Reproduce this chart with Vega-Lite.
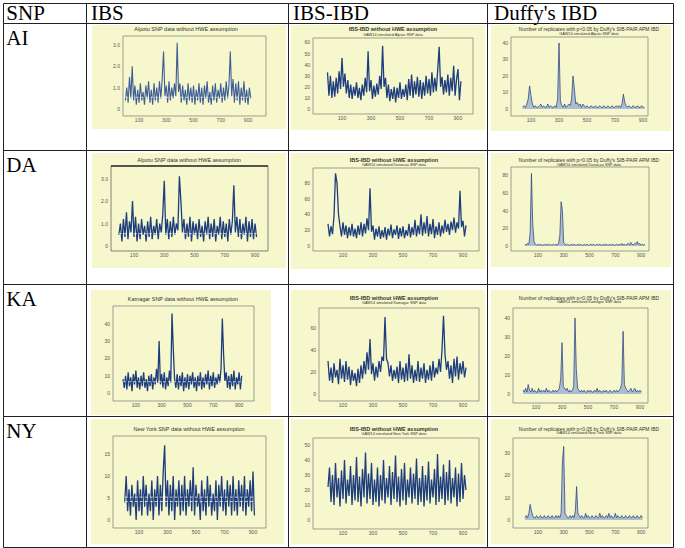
{
"$schema":"https://vega.github.io/schema/vega-lite/v6.json",
"padding":{"left":2,"top":2,"right":0,"bottom":0},
"background":"white",
"bounds":"flush",
"spacing":0,
"columns":4,
"data":{"values":[{}]},
"datasets":{
"xt":[{"v":100},{"v":300},{"v":500},{"v":700},{"v":900}],
"y3":[{"v":0,"l":"0"},{"v":1,"l":"1.0"},{"v":2,"l":"2.0"},{"v":3,"l":"3.0"}],
"y60":[{"v":0},{"v":10},{"v":20},{"v":30},{"v":40},{"v":50},{"v":60}],
"y40":[{"v":0},{"v":10},{"v":20},{"v":30},{"v":40}],
"y80":[{"v":0},{"v":20},{"v":40},{"v":60},{"v":80}],
"y60b":[{"v":0},{"v":20},{"v":40},{"v":60}],
"y15":[{"v":0},{"v":5},{"v":10},{"v":15}],
"y50":[{"v":0},{"v":10},{"v":20},{"v":30},{"v":40},{"v":50}],
"y30":[{"v":0},{"v":10},{"v":20},{"v":30}],
"ai1":[{"x":0,"y":0.4},{"x":10,"y":1.0},{"x":20,"y":0.3},{"x":30,"y":1.5},{"x":40,"y":0.5},{"x":50,"y":2.0},{"x":60,"y":0.4},{"x":70,"y":1.1},{"x":80,"y":0.2},{"x":90,"y":0.9},{"x":100,"y":0.3},{"x":110,"y":1.2},{"x":120,"y":0.4},{"x":130,"y":0.8},{"x":140,"y":0.2},{"x":150,"y":1.1},{"x":160,"y":0.5},{"x":170,"y":1.3},{"x":180,"y":0.3},{"x":190,"y":0.9},{"x":200,"y":0.2},{"x":210,"y":1.2},{"x":220,"y":0.4},{"x":230,"y":1.0},{"x":240,"y":0.3},{"x":250,"y":1.3},{"x":260,"y":0.5},{"x":270,"y":1.4},{"x":280,"y":2.7},{"x":290,"y":0.6},{"x":300,"y":1.1},{"x":310,"y":0.3},{"x":320,"y":1.3},{"x":330,"y":0.4},{"x":340,"y":1.0},{"x":350,"y":0.5},{"x":360,"y":1.2},{"x":370,"y":0.6},{"x":380,"y":3.1},{"x":390,"y":0.8},{"x":400,"y":1.2},{"x":410,"y":0.3},{"x":420,"y":1.1},{"x":430,"y":0.4},{"x":440,"y":0.9},{"x":450,"y":0.2},{"x":460,"y":1.2},{"x":470,"y":0.4},{"x":480,"y":1.0},{"x":490,"y":0.3},{"x":500,"y":1.1},{"x":510,"y":0.2},{"x":520,"y":0.9},{"x":530,"y":0.4},{"x":540,"y":1.2},{"x":550,"y":0.3},{"x":560,"y":1.0},{"x":570,"y":0.2},{"x":580,"y":1.1},{"x":590,"y":0.5},{"x":600,"y":1.3},{"x":610,"y":0.3},{"x":620,"y":0.8},{"x":630,"y":0.2},{"x":640,"y":1.1},{"x":650,"y":0.4},{"x":660,"y":1.2},{"x":670,"y":0.3},{"x":680,"y":0.9},{"x":690,"y":0.5},{"x":700,"y":1.2},{"x":710,"y":0.3},{"x":720,"y":1.0},{"x":730,"y":0.4},{"x":740,"y":1.3},{"x":750,"y":0.5},{"x":760,"y":1.1},{"x":770,"y":2.7},{"x":780,"y":0.6},{"x":790,"y":1.4},{"x":800,"y":0.3},{"x":810,"y":1.2},{"x":820,"y":0.4},{"x":830,"y":1.3},{"x":840,"y":0.2},{"x":850,"y":1.0},{"x":860,"y":0.4},{"x":870,"y":1.3},{"x":880,"y":0.3},{"x":890,"y":0.9},{"x":900,"y":0.2},{"x":910,"y":1.0},{"x":920,"y":0.5}],
"ai2":[{"x":0,"y":33},{"x":10,"y":12},{"x":20,"y":30},{"x":30,"y":10},{"x":40,"y":25},{"x":50,"y":11},{"x":60,"y":28},{"x":70,"y":14},{"x":80,"y":34},{"x":90,"y":18},{"x":100,"y":46},{"x":110,"y":20},{"x":120,"y":32},{"x":130,"y":14},{"x":140,"y":26},{"x":150,"y":10},{"x":160,"y":22},{"x":170,"y":9},{"x":180,"y":20},{"x":190,"y":12},{"x":200,"y":24},{"x":210,"y":10},{"x":220,"y":19},{"x":230,"y":8},{"x":240,"y":22},{"x":250,"y":12},{"x":260,"y":28},{"x":270,"y":15},{"x":280,"y":52},{"x":290,"y":16},{"x":300,"y":26},{"x":310,"y":9},{"x":320,"y":21},{"x":330,"y":11},{"x":340,"y":23},{"x":350,"y":13},{"x":360,"y":30},{"x":370,"y":18},{"x":380,"y":57},{"x":390,"y":20},{"x":400,"y":28},{"x":410,"y":10},{"x":420,"y":22},{"x":430,"y":7},{"x":440,"y":18},{"x":450,"y":9},{"x":460,"y":20},{"x":470,"y":6},{"x":480,"y":19},{"x":490,"y":10},{"x":500,"y":24},{"x":510,"y":9},{"x":520,"y":18},{"x":530,"y":11},{"x":540,"y":22},{"x":550,"y":8},{"x":560,"y":27},{"x":570,"y":12},{"x":580,"y":31},{"x":590,"y":10},{"x":600,"y":25},{"x":610,"y":13},{"x":620,"y":29},{"x":630,"y":11},{"x":640,"y":26},{"x":650,"y":9},{"x":660,"y":24},{"x":670,"y":12},{"x":680,"y":30},{"x":690,"y":14},{"x":700,"y":27},{"x":710,"y":12},{"x":720,"y":33},{"x":730,"y":15},{"x":740,"y":28},{"x":750,"y":16},{"x":760,"y":35},{"x":770,"y":56},{"x":780,"y":20},{"x":790,"y":29},{"x":800,"y":13},{"x":810,"y":26},{"x":820,"y":15},{"x":830,"y":31},{"x":840,"y":12},{"x":850,"y":28},{"x":860,"y":16},{"x":870,"y":39},{"x":880,"y":12},{"x":890,"y":27},{"x":900,"y":36},{"x":910,"y":8},{"x":920,"y":25}],
"ai3":[{"x":40,"y":1},{"x":50,"y":2},{"x":60,"y":1},{"x":70,"y":3},{"x":80,"y":6},{"x":90,"y":14},{"x":100,"y":8},{"x":110,"y":3},{"x":120,"y":1},{"x":130,"y":2},{"x":140,"y":1},{"x":150,"y":1},{"x":160,"y":2},{"x":170,"y":3},{"x":180,"y":1},{"x":190,"y":2},{"x":200,"y":1},{"x":210,"y":1},{"x":220,"y":3},{"x":230,"y":1},{"x":240,"y":2},{"x":250,"y":1},{"x":260,"y":1},{"x":270,"y":2},{"x":280,"y":1},{"x":290,"y":6},{"x":300,"y":40},{"x":310,"y":5},{"x":320,"y":2},{"x":330,"y":1},{"x":340,"y":3},{"x":350,"y":1},{"x":360,"y":2},{"x":370,"y":3},{"x":380,"y":2},{"x":390,"y":6},{"x":400,"y":20},{"x":410,"y":12},{"x":420,"y":3},{"x":430,"y":4},{"x":440,"y":2},{"x":450,"y":3},{"x":460,"y":1},{"x":470,"y":3},{"x":480,"y":2},{"x":490,"y":1},{"x":500,"y":2},{"x":510,"y":1},{"x":520,"y":1},{"x":530,"y":2},{"x":540,"y":1},{"x":550,"y":1},{"x":560,"y":2},{"x":570,"y":1},{"x":580,"y":1},{"x":590,"y":2},{"x":600,"y":1},{"x":610,"y":1},{"x":620,"y":2},{"x":630,"y":1},{"x":640,"y":1},{"x":650,"y":2},{"x":660,"y":1},{"x":670,"y":1},{"x":680,"y":2},{"x":690,"y":1},{"x":700,"y":1},{"x":710,"y":2},{"x":720,"y":1},{"x":730,"y":2},{"x":740,"y":1},{"x":750,"y":3},{"x":760,"y":9},{"x":770,"y":4},{"x":780,"y":2},{"x":790,"y":1},{"x":800,"y":2},{"x":810,"y":1},{"x":820,"y":1},{"x":830,"y":2},{"x":840,"y":1},{"x":850,"y":1},{"x":860,"y":2},{"x":870,"y":1},{"x":880,"y":1},{"x":890,"y":2},{"x":900,"y":1},{"x":910,"y":1}],
"da1":[{"x":0,"y":0.5},{"x":10,"y":1.0},{"x":20,"y":0.2},{"x":30,"y":1.2},{"x":40,"y":0.4},{"x":50,"y":1.5},{"x":60,"y":0.3},{"x":70,"y":1.1},{"x":80,"y":0.6},{"x":90,"y":2.0},{"x":100,"y":0.4},{"x":110,"y":1.3},{"x":120,"y":0.2},{"x":130,"y":1.0},{"x":140,"y":0.3},{"x":150,"y":1.2},{"x":160,"y":0.5},{"x":170,"y":0.9},{"x":180,"y":0.2},{"x":190,"y":1.1},{"x":200,"y":0.4},{"x":210,"y":1.3},{"x":220,"y":0.3},{"x":230,"y":0.9},{"x":240,"y":0.5},{"x":250,"y":1.2},{"x":260,"y":0.3},{"x":270,"y":1.0},{"x":280,"y":0.6},{"x":290,"y":1.4},{"x":300,"y":2.9},{"x":310,"y":0.5},{"x":320,"y":1.2},{"x":330,"y":0.3},{"x":340,"y":1.1},{"x":350,"y":0.4},{"x":360,"y":1.3},{"x":370,"y":0.5},{"x":380,"y":1.0},{"x":390,"y":0.7},{"x":400,"y":3.1},{"x":410,"y":2.0},{"x":420,"y":0.6},{"x":430,"y":1.2},{"x":440,"y":0.3},{"x":450,"y":1.0},{"x":460,"y":0.4},{"x":470,"y":1.3},{"x":480,"y":0.2},{"x":490,"y":1.1},{"x":500,"y":0.5},{"x":510,"y":1.0},{"x":520,"y":0.3},{"x":530,"y":1.2},{"x":540,"y":0.4},{"x":550,"y":0.9},{"x":560,"y":0.2},{"x":570,"y":1.1},{"x":580,"y":0.5},{"x":590,"y":1.3},{"x":600,"y":0.3},{"x":610,"y":1.0},{"x":620,"y":0.4},{"x":630,"y":1.2},{"x":640,"y":0.2},{"x":650,"y":0.9},{"x":660,"y":0.5},{"x":670,"y":1.3},{"x":680,"y":0.3},{"x":690,"y":1.1},{"x":700,"y":0.4},{"x":710,"y":1.0},{"x":720,"y":0.2},{"x":730,"y":1.2},{"x":740,"y":0.5},{"x":750,"y":1.1},{"x":760,"y":2.7},{"x":770,"y":0.6},{"x":780,"y":1.3},{"x":790,"y":0.4},{"x":800,"y":1.2},{"x":810,"y":0.3},{"x":820,"y":1.0},{"x":830,"y":0.5},{"x":840,"y":1.3},{"x":850,"y":0.2},{"x":860,"y":1.1},{"x":870,"y":0.4},{"x":880,"y":1.2},{"x":890,"y":0.3},{"x":900,"y":1.0},{"x":910,"y":0.4}],
"da2":[{"x":0,"y":28},{"x":10,"y":12},{"x":20,"y":25},{"x":30,"y":15},{"x":40,"y":38},{"x":50,"y":92},{"x":60,"y":80},{"x":70,"y":40},{"x":80,"y":25},{"x":90,"y":12},{"x":100,"y":30},{"x":110,"y":14},{"x":120,"y":26},{"x":130,"y":10},{"x":140,"y":24},{"x":150,"y":13},{"x":160,"y":28},{"x":170,"y":12},{"x":180,"y":22},{"x":190,"y":10},{"x":200,"y":26},{"x":210,"y":14},{"x":220,"y":30},{"x":230,"y":12},{"x":240,"y":28},{"x":250,"y":16},{"x":260,"y":35},{"x":270,"y":20},{"x":280,"y":73},{"x":290,"y":18},{"x":300,"y":26},{"x":310,"y":8},{"x":320,"y":22},{"x":330,"y":12},{"x":340,"y":25},{"x":350,"y":9},{"x":360,"y":20},{"x":370,"y":11},{"x":380,"y":24},{"x":390,"y":8},{"x":400,"y":22},{"x":410,"y":13},{"x":420,"y":27},{"x":430,"y":10},{"x":440,"y":21},{"x":450,"y":14},{"x":460,"y":26},{"x":470,"y":9},{"x":480,"y":23},{"x":490,"y":12},{"x":500,"y":25},{"x":510,"y":10},{"x":520,"y":20},{"x":530,"y":13},{"x":540,"y":28},{"x":550,"y":11},{"x":560,"y":24},{"x":570,"y":14},{"x":580,"y":33},{"x":590,"y":12},{"x":600,"y":26},{"x":610,"y":15},{"x":620,"y":40},{"x":630,"y":13},{"x":640,"y":30},{"x":650,"y":16},{"x":660,"y":38},{"x":670,"y":12},{"x":680,"y":28},{"x":690,"y":15},{"x":700,"y":34},{"x":710,"y":10},{"x":720,"y":25},{"x":730,"y":14},{"x":740,"y":30},{"x":750,"y":12},{"x":760,"y":26},{"x":770,"y":16},{"x":780,"y":33},{"x":790,"y":18},{"x":800,"y":28},{"x":810,"y":14},{"x":820,"y":31},{"x":830,"y":20},{"x":840,"y":36},{"x":850,"y":17},{"x":860,"y":30},{"x":870,"y":22},{"x":880,"y":70},{"x":890,"y":24},{"x":900,"y":32},{"x":910,"y":12},{"x":920,"y":26}],
"da3":[{"x":0,"y":2},{"x":10,"y":1},{"x":20,"y":3},{"x":30,"y":2},{"x":40,"y":15},{"x":50,"y":82},{"x":60,"y":25},{"x":70,"y":5},{"x":80,"y":2},{"x":90,"y":1},{"x":100,"y":2},{"x":110,"y":1},{"x":120,"y":2},{"x":130,"y":1},{"x":140,"y":1},{"x":150,"y":2},{"x":160,"y":1},{"x":170,"y":2},{"x":180,"y":1},{"x":190,"y":2},{"x":200,"y":1},{"x":210,"y":1},{"x":220,"y":2},{"x":230,"y":1},{"x":240,"y":2},{"x":250,"y":1},{"x":260,"y":3},{"x":270,"y":12},{"x":280,"y":50},{"x":290,"y":40},{"x":300,"y":4},{"x":310,"y":2},{"x":320,"y":1},{"x":330,"y":2},{"x":340,"y":1},{"x":350,"y":1},{"x":360,"y":2},{"x":370,"y":1},{"x":380,"y":2},{"x":390,"y":1},{"x":400,"y":1},{"x":410,"y":2},{"x":420,"y":1},{"x":430,"y":2},{"x":440,"y":1},{"x":450,"y":1},{"x":460,"y":2},{"x":470,"y":1},{"x":480,"y":2},{"x":490,"y":1},{"x":500,"y":1},{"x":510,"y":2},{"x":520,"y":1},{"x":530,"y":2},{"x":540,"y":1},{"x":550,"y":1},{"x":560,"y":2},{"x":570,"y":1},{"x":580,"y":2},{"x":590,"y":1},{"x":600,"y":1},{"x":610,"y":2},{"x":620,"y":1},{"x":630,"y":2},{"x":640,"y":1},{"x":650,"y":1},{"x":660,"y":2},{"x":670,"y":1},{"x":680,"y":2},{"x":690,"y":1},{"x":700,"y":1},{"x":710,"y":2},{"x":720,"y":1},{"x":730,"y":2},{"x":740,"y":1},{"x":750,"y":3},{"x":760,"y":1},{"x":770,"y":2},{"x":780,"y":1},{"x":790,"y":2},{"x":800,"y":3},{"x":810,"y":1},{"x":820,"y":4},{"x":830,"y":2},{"x":840,"y":1},{"x":850,"y":3},{"x":860,"y":2},{"x":870,"y":5},{"x":880,"y":2},{"x":890,"y":3},{"x":900,"y":1},{"x":910,"y":2},{"x":920,"y":1},{"x":930,"y":2}],
"ka1":[{"x":0,"y":8},{"x":10,"y":3},{"x":20,"y":10},{"x":30,"y":2},{"x":40,"y":12},{"x":50,"y":4},{"x":60,"y":9},{"x":70,"y":1},{"x":80,"y":11},{"x":90,"y":5},{"x":100,"y":13},{"x":110,"y":3},{"x":120,"y":9},{"x":130,"y":2},{"x":140,"y":10},{"x":150,"y":4},{"x":160,"y":12},{"x":170,"y":3},{"x":180,"y":8},{"x":190,"y":1},{"x":200,"y":10},{"x":210,"y":4},{"x":220,"y":11},{"x":230,"y":2},{"x":240,"y":9},{"x":250,"y":5},{"x":260,"y":14},{"x":270,"y":6},{"x":280,"y":30},{"x":290,"y":5},{"x":300,"y":11},{"x":310,"y":3},{"x":320,"y":12},{"x":330,"y":2},{"x":340,"y":9},{"x":350,"y":4},{"x":360,"y":13},{"x":370,"y":6},{"x":380,"y":46},{"x":390,"y":25},{"x":400,"y":8},{"x":410,"y":3},{"x":420,"y":11},{"x":430,"y":2},{"x":440,"y":10},{"x":450,"y":4},{"x":460,"y":12},{"x":470,"y":1},{"x":480,"y":9},{"x":490,"y":3},{"x":500,"y":11},{"x":510,"y":2},{"x":520,"y":10},{"x":530,"y":5},{"x":540,"y":12},{"x":550,"y":3},{"x":560,"y":9},{"x":570,"y":1},{"x":580,"y":10},{"x":590,"y":4},{"x":600,"y":12},{"x":610,"y":2},{"x":620,"y":9},{"x":630,"y":3},{"x":640,"y":11},{"x":650,"y":5},{"x":660,"y":13},{"x":670,"y":2},{"x":680,"y":10},{"x":690,"y":4},{"x":700,"y":12},{"x":710,"y":3},{"x":720,"y":9},{"x":730,"y":5},{"x":740,"y":11},{"x":750,"y":6},{"x":760,"y":14},{"x":770,"y":43},{"x":780,"y":22},{"x":790,"y":7},{"x":800,"y":12},{"x":810,"y":3},{"x":820,"y":10},{"x":830,"y":2},{"x":840,"y":11},{"x":850,"y":4},{"x":860,"y":13},{"x":870,"y":2},{"x":880,"y":9},{"x":890,"y":5},{"x":900,"y":12},{"x":910,"y":2},{"x":920,"y":10}],
"ka2":[{"x":0,"y":30},{"x":10,"y":12},{"x":20,"y":24},{"x":30,"y":10},{"x":40,"y":28},{"x":50,"y":15},{"x":60,"y":22},{"x":70,"y":9},{"x":80,"y":32},{"x":90,"y":14},{"x":100,"y":26},{"x":110,"y":11},{"x":120,"y":30},{"x":130,"y":13},{"x":140,"y":25},{"x":150,"y":8},{"x":160,"y":22},{"x":170,"y":12},{"x":180,"y":19},{"x":190,"y":7},{"x":200,"y":23},{"x":210,"y":10},{"x":220,"y":26},{"x":230,"y":14},{"x":240,"y":30},{"x":250,"y":18},{"x":260,"y":38},{"x":270,"y":22},{"x":280,"y":50},{"x":290,"y":18},{"x":300,"y":28},{"x":310,"y":12},{"x":320,"y":25},{"x":330,"y":15},{"x":340,"y":30},{"x":350,"y":20},{"x":360,"y":34},{"x":370,"y":30},{"x":380,"y":70},{"x":390,"y":32},{"x":400,"y":28},{"x":410,"y":16},{"x":420,"y":26},{"x":430,"y":12},{"x":440,"y":22},{"x":450,"y":14},{"x":460,"y":25},{"x":470,"y":10},{"x":480,"y":30},{"x":490,"y":13},{"x":500,"y":24},{"x":510,"y":11},{"x":520,"y":28},{"x":530,"y":12},{"x":540,"y":36},{"x":550,"y":14},{"x":560,"y":26},{"x":570,"y":10},{"x":580,"y":22},{"x":590,"y":12},{"x":600,"y":30},{"x":610,"y":11},{"x":620,"y":24},{"x":630,"y":14},{"x":640,"y":28},{"x":650,"y":10},{"x":660,"y":22},{"x":670,"y":13},{"x":680,"y":26},{"x":690,"y":12},{"x":700,"y":30},{"x":710,"y":15},{"x":720,"y":24},{"x":730,"y":18},{"x":740,"y":32},{"x":750,"y":20},{"x":760,"y":40},{"x":770,"y":71},{"x":780,"y":36},{"x":790,"y":22},{"x":800,"y":30},{"x":810,"y":14},{"x":820,"y":26},{"x":830,"y":10},{"x":840,"y":32},{"x":850,"y":16},{"x":860,"y":34},{"x":870,"y":13},{"x":880,"y":28},{"x":890,"y":18},{"x":900,"y":30},{"x":910,"y":15},{"x":920,"y":24}],
"ka3":[{"x":0,"y":2},{"x":10,"y":1},{"x":20,"y":3},{"x":30,"y":1},{"x":40,"y":5},{"x":50,"y":2},{"x":60,"y":1},{"x":70,"y":3},{"x":80,"y":1},{"x":90,"y":2},{"x":100,"y":1},{"x":110,"y":1},{"x":120,"y":3},{"x":130,"y":1},{"x":140,"y":2},{"x":150,"y":1},{"x":160,"y":2},{"x":170,"y":1},{"x":180,"y":3},{"x":190,"y":1},{"x":200,"y":2},{"x":210,"y":1},{"x":220,"y":1},{"x":230,"y":2},{"x":240,"y":1},{"x":250,"y":2},{"x":260,"y":1},{"x":270,"y":2},{"x":280,"y":3},{"x":290,"y":8},{"x":300,"y":27},{"x":310,"y":4},{"x":320,"y":3},{"x":330,"y":2},{"x":340,"y":3},{"x":350,"y":1},{"x":360,"y":2},{"x":370,"y":1},{"x":380,"y":2},{"x":390,"y":4},{"x":400,"y":40},{"x":410,"y":13},{"x":420,"y":3},{"x":430,"y":2},{"x":440,"y":1},{"x":450,"y":2},{"x":460,"y":1},{"x":470,"y":2},{"x":480,"y":1},{"x":490,"y":1},{"x":500,"y":2},{"x":510,"y":1},{"x":520,"y":2},{"x":530,"y":1},{"x":540,"y":1},{"x":550,"y":2},{"x":560,"y":1},{"x":570,"y":3},{"x":580,"y":1},{"x":590,"y":2},{"x":600,"y":1},{"x":610,"y":1},{"x":620,"y":2},{"x":630,"y":1},{"x":640,"y":2},{"x":650,"y":1},{"x":660,"y":1},{"x":670,"y":2},{"x":680,"y":1},{"x":690,"y":1},{"x":700,"y":2},{"x":710,"y":1},{"x":720,"y":2},{"x":730,"y":1},{"x":740,"y":2},{"x":750,"y":3},{"x":760,"y":6},{"x":770,"y":33},{"x":780,"y":5},{"x":790,"y":3},{"x":800,"y":2},{"x":810,"y":1},{"x":820,"y":2},{"x":830,"y":3},{"x":840,"y":1},{"x":850,"y":2},{"x":860,"y":3},{"x":870,"y":1},{"x":880,"y":2},{"x":890,"y":1},{"x":900,"y":2},{"x":910,"y":1}],
"ny1":[{"x":0,"y":4},{"x":10,"y":10},{"x":20,"y":2},{"x":30,"y":7},{"x":40,"y":1},{"x":50,"y":8},{"x":60,"y":3},{"x":70,"y":6},{"x":80,"y":0},{"x":90,"y":9},{"x":100,"y":2},{"x":110,"y":7},{"x":120,"y":1},{"x":130,"y":10},{"x":140,"y":3},{"x":150,"y":8},{"x":160,"y":1},{"x":170,"y":6},{"x":180,"y":2},{"x":190,"y":9},{"x":200,"y":0},{"x":210,"y":7},{"x":220,"y":3},{"x":230,"y":10},{"x":240,"y":1},{"x":250,"y":8},{"x":260,"y":2},{"x":270,"y":11},{"x":280,"y":17},{"x":290,"y":3},{"x":300,"y":9},{"x":310,"y":1},{"x":320,"y":8},{"x":330,"y":2},{"x":340,"y":10},{"x":350,"y":0},{"x":360,"y":7},{"x":370,"y":3},{"x":380,"y":9},{"x":390,"y":1},{"x":400,"y":8},{"x":410,"y":2},{"x":420,"y":10},{"x":430,"y":1},{"x":440,"y":7},{"x":450,"y":3},{"x":460,"y":9},{"x":470,"y":2},{"x":480,"y":12},{"x":490,"y":1},{"x":500,"y":8},{"x":510,"y":3},{"x":520,"y":6},{"x":530,"y":0},{"x":540,"y":9},{"x":550,"y":2},{"x":560,"y":7},{"x":570,"y":1},{"x":580,"y":10},{"x":590,"y":3},{"x":600,"y":8},{"x":610,"y":1},{"x":620,"y":6},{"x":630,"y":2},{"x":640,"y":9},{"x":650,"y":0},{"x":660,"y":8},{"x":670,"y":3},{"x":680,"y":10},{"x":690,"y":2},{"x":700,"y":7},{"x":710,"y":1},{"x":720,"y":9},{"x":730,"y":3},{"x":740,"y":8},{"x":750,"y":1},{"x":760,"y":10},{"x":770,"y":2},{"x":780,"y":7},{"x":790,"y":1},{"x":800,"y":9},{"x":810,"y":3},{"x":820,"y":8},{"x":830,"y":2},{"x":840,"y":10},{"x":850,"y":1},{"x":860,"y":7},{"x":870,"y":3},{"x":880,"y":9},{"x":890,"y":2},{"x":900,"y":11},{"x":910,"y":1}],
"ny2":[{"x":0,"y":22},{"x":10,"y":35},{"x":20,"y":12},{"x":30,"y":30},{"x":40,"y":10},{"x":50,"y":38},{"x":60,"y":15},{"x":70,"y":28},{"x":80,"y":9},{"x":90,"y":33},{"x":100,"y":14},{"x":110,"y":40},{"x":120,"y":11},{"x":130,"y":27},{"x":140,"y":16},{"x":150,"y":36},{"x":160,"y":10},{"x":170,"y":30},{"x":180,"y":13},{"x":190,"y":42},{"x":200,"y":12},{"x":210,"y":29},{"x":220,"y":9},{"x":230,"y":34},{"x":240,"y":15},{"x":250,"y":45},{"x":260,"y":11},{"x":270,"y":31},{"x":280,"y":14},{"x":290,"y":38},{"x":300,"y":10},{"x":310,"y":27},{"x":320,"y":12},{"x":330,"y":35},{"x":340,"y":9},{"x":350,"y":30},{"x":360,"y":13},{"x":370,"y":40},{"x":380,"y":11},{"x":390,"y":28},{"x":400,"y":15},{"x":410,"y":36},{"x":420,"y":10},{"x":430,"y":32},{"x":440,"y":14},{"x":450,"y":43},{"x":460,"y":12},{"x":470,"y":29},{"x":480,"y":9},{"x":490,"y":34},{"x":500,"y":13},{"x":510,"y":38},{"x":520,"y":10},{"x":530,"y":27},{"x":540,"y":15},{"x":550,"y":35},{"x":560,"y":11},{"x":570,"y":31},{"x":580,"y":14},{"x":590,"y":41},{"x":600,"y":10},{"x":610,"y":28},{"x":620,"y":12},{"x":630,"y":36},{"x":640,"y":9},{"x":650,"y":30},{"x":660,"y":13},{"x":670,"y":39},{"x":680,"y":11},{"x":690,"y":27},{"x":700,"y":15},{"x":710,"y":34},{"x":720,"y":10},{"x":730,"y":44},{"x":740,"y":12},{"x":750,"y":29},{"x":760,"y":14},{"x":770,"y":37},{"x":780,"y":10},{"x":790,"y":32},{"x":800,"y":13},{"x":810,"y":40},{"x":820,"y":11},{"x":830,"y":28},{"x":840,"y":15},{"x":850,"y":35},{"x":860,"y":9},{"x":870,"y":31},{"x":880,"y":12},{"x":890,"y":38},{"x":900,"y":14},{"x":910,"y":30},{"x":920,"y":20}],
"ny3":[{"x":0,"y":1},{"x":10,"y":2},{"x":20,"y":1},{"x":30,"y":3},{"x":40,"y":7},{"x":50,"y":4},{"x":60,"y":2},{"x":70,"y":1},{"x":80,"y":1},{"x":90,"y":2},{"x":100,"y":1},{"x":110,"y":1},{"x":120,"y":2},{"x":130,"y":1},{"x":140,"y":1},{"x":150,"y":2},{"x":160,"y":1},{"x":170,"y":1},{"x":180,"y":2},{"x":190,"y":1},{"x":200,"y":1},{"x":210,"y":2},{"x":220,"y":1},{"x":230,"y":1},{"x":240,"y":2},{"x":250,"y":1},{"x":260,"y":2},{"x":270,"y":1},{"x":280,"y":3},{"x":290,"y":26},{"x":300,"y":33},{"x":310,"y":3},{"x":320,"y":2},{"x":330,"y":1},{"x":340,"y":1},{"x":350,"y":2},{"x":360,"y":1},{"x":370,"y":2},{"x":380,"y":1},{"x":390,"y":4},{"x":400,"y":15},{"x":410,"y":3},{"x":420,"y":2},{"x":430,"y":1},{"x":440,"y":2},{"x":450,"y":1},{"x":460,"y":1},{"x":470,"y":3},{"x":480,"y":1},{"x":490,"y":2},{"x":500,"y":1},{"x":510,"y":1},{"x":520,"y":2},{"x":530,"y":1},{"x":540,"y":1},{"x":550,"y":2},{"x":560,"y":1},{"x":570,"y":1},{"x":580,"y":3},{"x":590,"y":1},{"x":600,"y":2},{"x":610,"y":1},{"x":620,"y":1},{"x":630,"y":2},{"x":640,"y":1},{"x":650,"y":3},{"x":660,"y":1},{"x":670,"y":2},{"x":680,"y":1},{"x":690,"y":1},{"x":700,"y":3},{"x":710,"y":1},{"x":720,"y":2},{"x":730,"y":1},{"x":740,"y":1},{"x":750,"y":2},{"x":760,"y":1},{"x":770,"y":1},{"x":780,"y":2},{"x":790,"y":1},{"x":800,"y":1},{"x":810,"y":2},{"x":820,"y":1},{"x":830,"y":1},{"x":840,"y":2},{"x":850,"y":1},{"x":860,"y":1},{"x":870,"y":2},{"x":880,"y":1},{"x":890,"y":1},{"x":900,"y":2},{"x":910,"y":1}]
},
"concat":[
 {"width":83,"height":20,"mark":{"type":"text","align":"left","baseline":"alphabetic","font":"Liberation Serif","fontSize":21,"color":"#000"},"encoding":{"x":{"datum":0.04,"type":"quantitative","scale":{"domain":[0,1]},"axis":null},"y":{"datum":0.15,"type":"quantitative","scale":{"domain":[0,1]},"axis":null},"text":{"value":"SNP"}}},
 {"width":202,"height":20,"mark":{"type":"text","align":"left","baseline":"alphabetic","font":"Liberation Serif","fontSize":21,"color":"#000"},"encoding":{"x":{"datum":0.025,"type":"quantitative","scale":{"domain":[0,1]},"axis":null},"y":{"datum":0.15,"type":"quantitative","scale":{"domain":[0,1]},"axis":null},"text":{"value":"IBS"}}},
 {"width":199,"height":20,"mark":{"type":"text","align":"left","baseline":"alphabetic","font":"Liberation Serif","fontSize":21,"color":"#000"},"encoding":{"x":{"datum":0.025,"type":"quantitative","scale":{"domain":[0,1]},"axis":null},"y":{"datum":0.15,"type":"quantitative","scale":{"domain":[0,1]},"axis":null},"text":{"value":"IBS-IBD"}}},
 {"width":186,"height":20,"mark":{"type":"text","align":"left","baseline":"alphabetic","font":"Liberation Serif","fontSize":21,"color":"#000"},"encoding":{"x":{"datum":0.038,"type":"quantitative","scale":{"domain":[0,1]},"axis":null},"y":{"datum":0.15,"type":"quantitative","scale":{"domain":[0,1]},"axis":null},"text":{"value":"Duffy's IBD"}}},
 {"width":83,"height":127,"mark":{"type":"text","align":"left","baseline":"alphabetic","font":"Liberation Serif","fontSize":21,"color":"#000"},"encoding":{"x":{"datum":0.04,"type":"quantitative","scale":{"domain":[0,1]},"axis":null},"y":{"datum":0.827,"type":"quantitative","scale":{"domain":[0,1]},"axis":null},"text":{"value":"AI"}}},
 {"width":202,"height":127,"layer":[
  {"mark":{"type":"rect","fill":"#f6f7cc"},"encoding":{"x":{"datum":-245.1,"type":"quantitative","axis":null},"x2":{"datum":1178.7},"y":{"datum":3.938,"type":"quantitative","axis":null},"y2":{"datum":-0.938}}},
  {"mark":{"type":"rect","fillOpacity":0,"stroke":"#777","strokeWidth":0.7},"encoding":{"x":{"datum":-17.6,"type":"quantitative","axis":null},"x2":{"datum":1031.9},"y":{"datum":3.422,"type":"quantitative","axis":null},"y2":{"datum":-0.328}}},
  {"data":{"name":"ai1"},"mark":{"type":"line","color":"#3d5d97","strokeWidth":1.1},"encoding":{"x":{"field":"x","type":"quantitative","scale":{"domain":[-289.2,1193.4],"nice":false,"zero":false},"axis":null},"y":{"field":"y","type":"quantitative","scale":{"domain":[-1.922,4.032],"nice":false,"zero":false},"axis":null}}},
  {"mark":{"type":"rule","color":"white","strokeWidth":0.7,"strokeDash":[3,2]},"encoding":{"x":{"datum":0,"type":"quantitative","axis":null},"x2":{"datum":920},"y":{"datum":0.55,"type":"quantitative","axis":null}}},
  {"data":{"name":"xt"},"mark":{"type":"text","font":"Liberation Sans","fontSize":5,"color":"#555","baseline":"top"},"encoding":{"x":{"field":"v","type":"quantitative","axis":null},"y":{"datum":-0.422,"type":"quantitative","axis":null},"text":{"field":"v"}}},
  {"data":{"name":"y3"},"mark":{"type":"text","font":"Liberation Sans","fontSize":5,"color":"#555","align":"right","baseline":"middle"},"encoding":{"x":{"datum":-39.6,"type":"quantitative","axis":null},"y":{"field":"v","type":"quantitative","axis":null},"text":{"field":"l"}}},
  {"mark":{"type":"text","font":"Liberation Sans","fontSize":5.5,"color":"#333"},"encoding":{"x":{"datum":444.8,"type":"quantitative","axis":null},"y":{"datum":3.75,"type":"quantitative","axis":null},"text":{"value":"Alpotu SNP data without HWE assumption"}}}
 ]},
 {"width":199,"height":127,"layer":[
  {"mark":{"type":"rect","fill":"#f6f7cc"},"encoding":{"x":{"datum":-251.7,"type":"quantitative","axis":null},"x2":{"datum":1086.2},"y":{"datum":75.68,"type":"quantitative","axis":null},"y2":{"datum":-18.92}}},
  {"mark":{"type":"rect","fillOpacity":0,"stroke":"#777","strokeWidth":0.7},"encoding":{"x":{"datum":-100,"type":"quantitative","axis":null},"x2":{"datum":1003.4},"y":{"datum":63.96,"type":"quantitative","axis":null},"y2":{"datum":-4.5}}},
  {"data":{"name":"ai2"},"mark":{"type":"line","color":"#1d3d7c","strokeWidth":1.3},"encoding":{"x":{"field":"x","type":"quantitative","scale":{"domain":[-272.4,1100],"nice":false,"zero":false},"axis":null},"y":{"field":"y","type":"quantitative","scale":{"domain":[-36.94,77.48],"nice":false,"zero":false},"axis":null}}},
  {"data":{"name":"xt"},"mark":{"type":"text","font":"Liberation Sans","fontSize":5,"color":"#555","baseline":"top"},"encoding":{"x":{"field":"v","type":"quantitative","axis":null},"y":{"datum":-6.31,"type":"quantitative","axis":null},"text":{"field":"v"}}},
  {"data":{"name":"y60"},"mark":{"type":"text","font":"Liberation Sans","fontSize":5,"color":"#555","align":"right","baseline":"middle"},"encoding":{"x":{"datum":-120.7,"type":"quantitative","axis":null},"y":{"field":"v","type":"quantitative","axis":null},"text":{"field":"v"}}},
  {"mark":{"type":"text","font":"Liberation Sans","fontSize":5.5,"fontWeight":"bold","color":"#333"},"encoding":{"x":{"datum":451.7,"type":"quantitative","axis":null},"y":{"datum":72.07,"type":"quantitative","axis":null},"text":{"value":"IBS-IBD without HWE assumption"}}},
  {"mark":{"type":"text","font":"Liberation Sans","fontSize":3.8,"color":"#333"},"encoding":{"x":{"datum":451.7,"type":"quantitative","axis":null},"y":{"datum":66.67,"type":"quantitative","axis":null},"text":{"value":"GAW14 simulated Alputu SNP data"}}}
 ]},
 {"width":186,"height":127,"layer":[
  {"mark":{"type":"rect","fill":"#f6f7cc"},"encoding":{"x":{"datum":-185.7,"type":"quantitative","axis":null},"x2":{"datum":1100},"y":{"datum":50.91,"type":"quantitative","axis":null},"y2":{"datum":-13.33}}},
  {"mark":{"type":"rect","fillOpacity":0,"stroke":"#777","strokeWidth":0.7},"encoding":{"x":{"datum":-42.9,"type":"quantitative","axis":null},"x2":{"datum":935.7},"y":{"datum":43.64,"type":"quantitative","axis":null},"y2":{"datum":-4.24}}},
  {"data":{"name":"ai3"},"mark":{"type":"area","color":"#8ea6cf","line":{"color":"#1f3a7a","strokeWidth":0.7}},"encoding":{"x":{"field":"x","type":"quantitative","scale":{"domain":[-214.3,1114.3],"nice":false,"zero":false},"axis":null},"y":{"field":"y","type":"quantitative","scale":{"domain":[-24.85,52.12],"nice":false,"zero":false},"axis":null},"y2":{"datum":0}}},
  {"data":{"name":"xt"},"mark":{"type":"text","font":"Liberation Sans","fontSize":5,"color":"#555","baseline":"top"},"encoding":{"x":{"field":"v","type":"quantitative","axis":null},"y":{"datum":-5.45,"type":"quantitative","axis":null},"text":{"field":"v"}}},
  {"data":{"name":"y40"},"mark":{"type":"text","font":"Liberation Sans","fontSize":5,"color":"#555","align":"right","baseline":"middle"},"encoding":{"x":{"datum":-64.3,"type":"quantitative","axis":null},"y":{"field":"v","type":"quantitative","axis":null},"text":{"field":"v"}}},
  {"mark":{"type":"text","font":"Liberation Sans","fontSize":5,"color":"#333"},"encoding":{"x":{"datum":514.3,"type":"quantitative","axis":null},"y":{"datum":48.48,"type":"quantitative","axis":null},"text":{"value":"Number of replicates with p<0.05 by Duffy's SIB-PAIR APM IBD"}}},
  {"mark":{"type":"text","font":"Liberation Sans","fontSize":3.8,"color":"#333"},"encoding":{"x":{"datum":514.3,"type":"quantitative","axis":null},"y":{"datum":45.45,"type":"quantitative","axis":null},"text":{"value":"GAW14 simulated Alputu SNP data"}}}
 ]},
 {"width":83,"height":134,"mark":{"type":"text","align":"left","baseline":"alphabetic","font":"Liberation Serif","fontSize":21,"color":"#000"},"encoding":{"x":{"datum":0.04,"type":"quantitative","scale":{"domain":[0,1]},"axis":null},"y":{"datum":0.836,"type":"quantitative","scale":{"domain":[0,1]},"axis":null},"text":{"value":"DA"}}},
 {"width":202,"height":134,"layer":[
  {"mark":{"type":"rect","fill":"#f6f7cc"},"encoding":{"x":{"datum":-177.9,"type":"quantitative","axis":null},"x2":{"datum":1104.8},"y":{"datum":4.133,"type":"quantitative","axis":null},"y2":{"datum":-0.978}}},
  {"mark":{"type":"rect","fillOpacity":0,"stroke":"#666","strokeWidth":0.8},"encoding":{"x":{"datum":-52.2,"type":"quantitative","axis":null},"x2":{"datum":985.8},"y":{"datum":3.556,"type":"quantitative","axis":null},"y2":{"datum":-0.222}}},
  {"mark":{"type":"rule","color":"#333","strokeWidth":1.6},"encoding":{"x":{"datum":-52.2,"type":"quantitative","axis":null},"x2":{"datum":985.8},"y":{"datum":3.556,"type":"quantitative","axis":null}}},
  {"data":{"name":"da1"},"mark":{"type":"line","color":"#1d3d7c","strokeWidth":1.3},"encoding":{"x":{"field":"x","type":"quantitative","scale":{"domain":[-217.5,1118.0],"nice":false,"zero":false},"axis":null},"y":{"field":"y","type":"quantitative","scale":{"domain":[-1.689,4.267],"nice":false,"zero":false},"axis":null}}},
  {"mark":{"type":"rule","color":"white","strokeWidth":0.7,"strokeDash":[3,2]},"encoding":{"x":{"datum":0,"type":"quantitative","axis":null},"x2":{"datum":910},"y":{"datum":0.55,"type":"quantitative","axis":null}}},
  {"data":{"name":"xt"},"mark":{"type":"text","font":"Liberation Sans","fontSize":5,"color":"#555","baseline":"top"},"encoding":{"x":{"field":"v","type":"quantitative","axis":null},"y":{"datum":-0.311,"type":"quantitative","axis":null},"text":{"field":"v"}}},
  {"data":{"name":"y3"},"mark":{"type":"text","font":"Liberation Sans","fontSize":5,"color":"#555","align":"right","baseline":"middle"},"encoding":{"x":{"datum":-72.1,"type":"quantitative","axis":null},"y":{"field":"v","type":"quantitative","axis":null},"text":{"field":"l"}}},
  {"mark":{"type":"text","font":"Liberation Sans","fontSize":5.5,"color":"#333"},"encoding":{"x":{"datum":463.5,"type":"quantitative","axis":null},"y":{"datum":3.822,"type":"quantitative","axis":null},"text":{"value":"Alpotu SNP data without HWE assumption"}}}
 ]},
 {"width":199,"height":134,"layer":[
  {"mark":{"type":"rect","fill":"#f6f7cc"},"encoding":{"x":{"datum":-246.7,"type":"quantitative","axis":null},"x2":{"datum":1046.7},"y":{"datum":117.7,"type":"quantitative","axis":null},"y2":{"datum":-29.1}}},
  {"mark":{"type":"rect","fillOpacity":0,"stroke":"#777","strokeWidth":0.7},"encoding":{"x":{"datum":-100,"type":"quantitative","axis":null},"x2":{"datum":1006.7},"y":{"datum":98.7,"type":"quantitative","axis":null},"y2":{"datum":-6.33}}},
  {"data":{"name":"da2"},"mark":{"type":"line","color":"#1d3d7c","strokeWidth":1.3},"encoding":{"x":{"field":"x","type":"quantitative","scale":{"domain":[-266.7,1060],"nice":false,"zero":false},"axis":null},"y":{"field":"y","type":"quantitative","scale":{"domain":[-48.1,121.5],"nice":false,"zero":false},"axis":null}}},
  {"data":{"name":"xt"},"mark":{"type":"text","font":"Liberation Sans","fontSize":5,"color":"#555","baseline":"top"},"encoding":{"x":{"field":"v","type":"quantitative","axis":null},"y":{"datum":-8.86,"type":"quantitative","axis":null},"text":{"field":"v"}}},
  {"data":{"name":"y80"},"mark":{"type":"text","font":"Liberation Sans","fontSize":5,"color":"#555","align":"right","baseline":"middle"},"encoding":{"x":{"datum":-120,"type":"quantitative","axis":null},"y":{"field":"v","type":"quantitative","axis":null},"text":{"field":"v"}}},
  {"mark":{"type":"text","font":"Liberation Sans","fontSize":5.5,"fontWeight":"bold","color":"#333"},"encoding":{"x":{"datum":440,"type":"quantitative","axis":null},"y":{"datum":108.9,"type":"quantitative","axis":null},"text":{"value":"IBS-IBD without HWE assumption"}}},
  {"mark":{"type":"text","font":"Liberation Sans","fontSize":3.8,"color":"#333"},"encoding":{"x":{"datum":440,"type":"quantitative","axis":null},"y":{"datum":102.5,"type":"quantitative","axis":null},"text":{"value":"GAW14 simulated Danacaa SNP data"}}}
 ]},
 {"width":186,"height":134,"layer":[
  {"mark":{"type":"rect","fill":"#f6f7cc"},"encoding":{"x":{"datum":-263.6,"type":"quantitative","axis":null},"x2":{"datum":1131.8},"y":{"datum":105.1,"type":"quantitative","axis":null},"y2":{"datum":-23.7}}},
  {"mark":{"type":"rect","fillOpacity":0,"stroke":"#777","strokeWidth":0.7},"encoding":{"x":{"datum":-108.5,"type":"quantitative","axis":null},"x2":{"datum":961.2},"y":{"datum":89.3,"type":"quantitative","axis":null},"y2":{"datum":-5.65}}},
  {"data":{"name":"da3"},"mark":{"type":"area","color":"#8ea6cf","line":{"color":"#1f3a7a","strokeWidth":0.7}},"encoding":{"x":{"field":"x","type":"quantitative","scale":{"domain":[-294.6,1147.3],"nice":false,"zero":false},"axis":null},"y":{"field":"y","type":"quantitative","scale":{"domain":[-42.9,108.5],"nice":false,"zero":false},"axis":null},"y2":{"datum":0}}},
  {"data":{"name":"xt"},"mark":{"type":"text","font":"Liberation Sans","fontSize":5,"color":"#555","baseline":"top"},"encoding":{"x":{"field":"v","type":"quantitative","axis":null},"y":{"datum":-7.91,"type":"quantitative","axis":null},"text":{"field":"v"}}},
  {"data":{"name":"y80"},"mark":{"type":"text","font":"Liberation Sans","fontSize":5,"color":"#555","align":"right","baseline":"middle"},"encoding":{"x":{"datum":-131.8,"type":"quantitative","axis":null},"y":{"field":"v","type":"quantitative","axis":null},"text":{"field":"v"}}},
  {"mark":{"type":"text","font":"Liberation Sans","fontSize":5,"color":"#333"},"encoding":{"x":{"datum":496.1,"type":"quantitative","axis":null},"y":{"datum":97.2,"type":"quantitative","axis":null},"text":{"value":"Number of replicates with p<0.05 by Duffy's SIB-PAIR APM IBD"}}},
  {"mark":{"type":"text","font":"Liberation Sans","fontSize":3.8,"color":"#333"},"encoding":{"x":{"datum":496.1,"type":"quantitative","axis":null},"y":{"datum":91.5,"type":"quantitative","axis":null},"text":{"value":"GAW14 simulated Danacaa SNP data"}}}
 ]},
 {"width":83,"height":132,"mark":{"type":"text","align":"left","baseline":"alphabetic","font":"Liberation Serif","fontSize":21,"color":"#000"},"encoding":{"x":{"datum":0.04,"type":"quantitative","scale":{"domain":[0,1]},"axis":null},"y":{"datum":0.833,"type":"quantitative","scale":{"domain":[0,1]},"axis":null},"text":{"value":"KA"}}},
 {"width":202,"height":132,"layer":[
  {"mark":{"type":"rect","fill":"#f6f7cc"},"encoding":{"x":{"datum":-248.1,"type":"quantitative","axis":null},"x2":{"datum":1147.3},"y":{"datum":59.54,"type":"quantitative","axis":null},"y2":{"datum":-12.72}}},
  {"mark":{"type":"rect","fillOpacity":0,"stroke":"#777","strokeWidth":0.7},"encoding":{"x":{"datum":-77.5,"type":"quantitative","axis":null},"x2":{"datum":1015.5},"y":{"datum":50.29,"type":"quantitative","axis":null},"y2":{"datum":-4.62}}},
  {"data":{"name":"ka1"},"mark":{"type":"line","color":"#1d3d7c","strokeWidth":1.3},"encoding":{"x":{"field":"x","type":"quantitative","scale":{"domain":[-286.8,1279.1],"nice":false,"zero":false},"axis":null},"y":{"field":"y","type":"quantitative","scale":{"domain":[-13.29,63.0],"nice":false,"zero":false},"axis":null}}},
  {"mark":{"type":"rule","color":"white","strokeWidth":0.7,"strokeDash":[3,2]},"encoding":{"x":{"datum":0,"type":"quantitative","axis":null},"x2":{"datum":920},"y":{"datum":6.5,"type":"quantitative","axis":null}}},
  {"data":{"name":"xt"},"mark":{"type":"text","font":"Liberation Sans","fontSize":5,"color":"#555","baseline":"top"},"encoding":{"x":{"field":"v","type":"quantitative","axis":null},"y":{"datum":-5.78,"type":"quantitative","axis":null},"text":{"field":"v"}}},
  {"data":{"name":"y40"},"mark":{"type":"text","font":"Liberation Sans","fontSize":5,"color":"#555","align":"right","baseline":"middle"},"encoding":{"x":{"datum":-100.8,"type":"quantitative","axis":null},"y":{"field":"v","type":"quantitative","axis":null},"text":{"field":"v"}}},
  {"mark":{"type":"text","font":"Liberation Sans","fontSize":5.5,"color":"#333"},"encoding":{"x":{"datum":465.1,"type":"quantitative","axis":null},"y":{"datum":54.34,"type":"quantitative","axis":null},"text":{"value":"Kamagar SNP data without HWE assumption"}}}
 ]},
 {"width":199,"height":132,"layer":[
  {"mark":{"type":"rect","fill":"#f6f7cc"},"encoding":{"x":{"datum":-246.7,"type":"quantitative","axis":null},"x2":{"datum":1046.7},"y":{"datum":94.55,"type":"quantitative","axis":null},"y2":{"datum":-19.09}}},
  {"mark":{"type":"rect","fillOpacity":0,"stroke":"#777","strokeWidth":0.7},"encoding":{"x":{"datum":-60,"type":"quantitative","axis":null},"x2":{"datum":1006.7},"y":{"datum":78.18,"type":"quantitative","axis":null},"y2":{"datum":-6.36}}},
  {"data":{"name":"ka2"},"mark":{"type":"line","color":"#1d3d7c","strokeWidth":1.3},"encoding":{"x":{"field":"x","type":"quantitative","scale":{"domain":[-266.7,1060],"nice":false,"zero":false},"axis":null},"y":{"field":"y","type":"quantitative","scale":{"domain":[-20,100],"nice":false,"zero":false},"axis":null}}},
  {"data":{"name":"xt"},"mark":{"type":"text","font":"Liberation Sans","fontSize":5,"color":"#555","baseline":"top"},"encoding":{"x":{"field":"v","type":"quantitative","axis":null},"y":{"datum":-8.18,"type":"quantitative","axis":null},"text":{"field":"v"}}},
  {"data":{"name":"y60b"},"mark":{"type":"text","font":"Liberation Sans","fontSize":5,"color":"#555","align":"right","baseline":"middle"},"encoding":{"x":{"datum":-80,"type":"quantitative","axis":null},"y":{"field":"v","type":"quantitative","axis":null},"text":{"field":"v"}}},
  {"mark":{"type":"text","font":"Liberation Sans","fontSize":5.5,"fontWeight":"bold","color":"#333"},"encoding":{"x":{"datum":440,"type":"quantitative","axis":null},"y":{"datum":87.27,"type":"quantitative","axis":null},"text":{"value":"IBS-IBD without HWE assumption"}}},
  {"mark":{"type":"text","font":"Liberation Sans","fontSize":3.8,"color":"#333"},"encoding":{"x":{"datum":440,"type":"quantitative","axis":null},"y":{"datum":82.73,"type":"quantitative","axis":null},"text":{"value":"GAW14 simulated Kamagar SNP data"}}}
 ]},
 {"width":186,"height":132,"layer":[
  {"mark":{"type":"rect","fill":"#f6f7cc"},"encoding":{"x":{"datum":-246.2,"type":"quantitative","axis":null},"x2":{"datum":1138.5},"y":{"datum":54.74,"type":"quantitative","axis":null},"y2":{"datum":-11.05}}},
  {"mark":{"type":"rect","fillOpacity":0,"stroke":"#777","strokeWidth":0.7},"encoding":{"x":{"datum":-76.9,"type":"quantitative","axis":null},"x2":{"datum":961.5},"y":{"datum":45.26,"type":"quantitative","axis":null},"y2":{"datum":-4.74}}},
  {"data":{"name":"ka3"},"mark":{"type":"area","color":"#8ea6cf","line":{"color":"#1f3a7a","strokeWidth":0.7}},"encoding":{"x":{"field":"x","type":"quantitative","scale":{"domain":[-276.9,1153.8],"nice":false,"zero":false},"axis":null},"y":{"field":"y","type":"quantitative","scale":{"domain":[-11.58,57.89],"nice":false,"zero":false},"axis":null},"y2":{"datum":0}}},
  {"data":{"name":"xt"},"mark":{"type":"text","font":"Liberation Sans","fontSize":5,"color":"#555","baseline":"top"},"encoding":{"x":{"field":"v","type":"quantitative","axis":null},"y":{"datum":-5.79,"type":"quantitative","axis":null},"text":{"field":"v"}}},
  {"data":{"name":"y40"},"mark":{"type":"text","font":"Liberation Sans","fontSize":5,"color":"#555","align":"right","baseline":"middle"},"encoding":{"x":{"datum":-100,"type":"quantitative","axis":null},"y":{"field":"v","type":"quantitative","axis":null},"text":{"field":"v"}}},
  {"mark":{"type":"text","font":"Liberation Sans","fontSize":5,"color":"#333"},"encoding":{"x":{"datum":507.7,"type":"quantitative","axis":null},"y":{"datum":50.53,"type":"quantitative","axis":null},"text":{"value":"Number of replicates with p<0.05 by Duffy's SIB-PAIR APM IBD"}}},
  {"mark":{"type":"text","font":"Liberation Sans","fontSize":3.8,"color":"#333"},"encoding":{"x":{"datum":507.7,"type":"quantitative","axis":null},"y":{"datum":48.42,"type":"quantitative","axis":null},"text":{"value":"GAW14 simulated Kamagar SNP data"}}}
 ]},
 {"width":83,"height":131,"mark":{"type":"text","align":"left","baseline":"alphabetic","font":"Liberation Serif","fontSize":21,"color":"#000"},"encoding":{"x":{"datum":0.04,"type":"quantitative","scale":{"domain":[0,1]},"axis":null},"y":{"datum":0.832,"type":"quantitative","scale":{"domain":[0,1]},"axis":null},"text":{"value":"NY"}}},
 {"width":202,"height":131,"layer":[
  {"mark":{"type":"rect","fill":"#f6f7cc"},"encoding":{"x":{"datum":-236.8,"type":"quantitative","axis":null},"x2":{"datum":1117.5},"y":{"datum":22.95,"type":"quantitative","axis":null},"y2":{"datum":-5.45}}},
  {"mark":{"type":"rect","fillOpacity":0,"stroke":"#777","strokeWidth":0.7},"encoding":{"x":{"datum":-82.5,"type":"quantitative","axis":null},"x2":{"datum":991.2},"y":{"datum":19.09,"type":"quantitative","axis":null},"y2":{"datum":-1.82}}},
  {"data":{"name":"ny1"},"mark":{"type":"line","color":"#1d3d7c","strokeWidth":1.3},"encoding":{"x":{"field":"x","type":"quantitative","scale":{"domain":[-271.9,1145.6],"nice":false,"zero":false},"axis":null},"y":{"field":"y","type":"quantitative","scale":{"domain":[-6.14,23.64],"nice":false,"zero":false},"axis":null}}},
  {"mark":{"type":"rule","color":"white","strokeWidth":0.7,"strokeDash":[3,2]},"encoding":{"x":{"datum":0,"type":"quantitative","axis":null},"x2":{"datum":910},"y":{"datum":4.2,"type":"quantitative","axis":null}}},
  {"mark":{"type":"rule","color":"white","strokeWidth":0.7,"strokeDash":[3,2]},"encoding":{"x":{"datum":0,"type":"quantitative","axis":null},"x2":{"datum":910},"y":{"datum":5.2,"type":"quantitative","axis":null}}},
  {"data":{"name":"xt"},"mark":{"type":"text","font":"Liberation Sans","fontSize":5,"color":"#555","baseline":"top"},"encoding":{"x":{"field":"v","type":"quantitative","axis":null},"y":{"datum":-2.27,"type":"quantitative","axis":null},"text":{"field":"v"}}},
  {"data":{"name":"y15"},"mark":{"type":"text","font":"Liberation Sans","fontSize":5,"color":"#555","align":"right","baseline":"middle"},"encoding":{"x":{"datum":-103.5,"type":"quantitative","axis":null},"y":{"field":"v","type":"quantitative","axis":null},"text":{"field":"v"}}},
  {"mark":{"type":"text","font":"Liberation Sans","fontSize":5.5,"color":"#333"},"encoding":{"x":{"datum":450.9,"type":"quantitative","axis":null},"y":{"datum":20.68,"type":"quantitative","axis":null},"text":{"value":"New York SNP data without HWE assumption"}}}
 ]},
 {"width":199,"height":131,"layer":[
  {"mark":{"type":"rect","fill":"#f6f7cc"},"encoding":{"x":{"datum":-246.7,"type":"quantitative","axis":null},"x2":{"datum":1046.7},"y":{"datum":67.33,"type":"quantitative","axis":null},"y2":{"datum":-16}}},
  {"mark":{"type":"rect","fillOpacity":0,"stroke":"#777","strokeWidth":0.7},"encoding":{"x":{"datum":-100,"type":"quantitative","axis":null},"x2":{"datum":1006.7},"y":{"datum":54.67,"type":"quantitative","axis":null},"y2":{"datum":-6}}},
  {"data":{"name":"ny2"},"mark":{"type":"line","color":"#1d3d7c","strokeWidth":1.3},"encoding":{"x":{"field":"x","type":"quantitative","scale":{"domain":[-266.7,1060],"nice":false,"zero":false},"axis":null},"y":{"field":"y","type":"quantitative","scale":{"domain":[-18,69.33],"nice":false,"zero":false},"axis":null}}},
  {"data":{"name":"xt"},"mark":{"type":"text","font":"Liberation Sans","fontSize":5,"color":"#555","baseline":"top"},"encoding":{"x":{"field":"v","type":"quantitative","axis":null},"y":{"datum":-7.33,"type":"quantitative","axis":null},"text":{"field":"v"}}},
  {"data":{"name":"y50"},"mark":{"type":"text","font":"Liberation Sans","fontSize":5,"color":"#555","align":"right","baseline":"middle"},"encoding":{"x":{"datum":-120,"type":"quantitative","axis":null},"y":{"field":"v","type":"quantitative","axis":null},"text":{"field":"v"}}},
  {"mark":{"type":"text","font":"Liberation Sans","fontSize":5.5,"fontWeight":"bold","color":"#333"},"encoding":{"x":{"datum":440,"type":"quantitative","axis":null},"y":{"datum":60.67,"type":"quantitative","axis":null},"text":{"value":"IBS-IBD without HWE assumption"}}},
  {"mark":{"type":"text","font":"Liberation Sans","fontSize":3.8,"color":"#333"},"encoding":{"x":{"datum":440,"type":"quantitative","axis":null},"y":{"datum":57.33,"type":"quantitative","axis":null},"text":{"value":"GAW14 simulated New York SNP data"}}}
 ]},
 {"width":186,"height":131,"layer":[
  {"mark":{"type":"rect","fill":"#f6f7cc"},"encoding":{"x":{"datum":-263.6,"type":"quantitative","axis":null},"x2":{"datum":1131.8},"y":{"datum":45.29,"type":"quantitative","axis":null},"y2":{"datum":-10.76}}},
  {"mark":{"type":"rect","fillOpacity":0,"stroke":"#777","strokeWidth":0.7},"encoding":{"x":{"datum":-93,"type":"quantitative","axis":null},"x2":{"datum":953.5},"y":{"datum":36.77,"type":"quantitative","axis":null},"y2":{"datum":-3.59}}},
  {"data":{"name":"ny3"},"mark":{"type":"area","color":"#8ea6cf","line":{"color":"#1f3a7a","strokeWidth":0.7}},"encoding":{"x":{"field":"x","type":"quantitative","scale":{"domain":[-294.6,1147.3],"nice":false,"zero":false},"axis":null},"y":{"field":"y","type":"quantitative","scale":{"domain":[-12.11,46.64],"nice":false,"zero":false},"axis":null},"y2":{"datum":0}}},
  {"data":{"name":"xt"},"mark":{"type":"text","font":"Liberation Sans","fontSize":5,"color":"#555","baseline":"top"},"encoding":{"x":{"field":"v","type":"quantitative","axis":null},"y":{"datum":-4.48,"type":"quantitative","axis":null},"text":{"field":"v"}}},
  {"data":{"name":"y30"},"mark":{"type":"text","font":"Liberation Sans","fontSize":5,"color":"#555","align":"right","baseline":"middle"},"encoding":{"x":{"datum":-116.3,"type":"quantitative","axis":null},"y":{"field":"v","type":"quantitative","axis":null},"text":{"field":"v"}}},
  {"mark":{"type":"text","font":"Liberation Sans","fontSize":5,"color":"#333"},"encoding":{"x":{"datum":496.1,"type":"quantitative","axis":null},"y":{"datum":40.81,"type":"quantitative","axis":null},"text":{"value":"Number of replicates with p<0.05 by Duffy's SIB-PAIR APM IBD"}}},
  {"mark":{"type":"text","font":"Liberation Sans","fontSize":3.8,"color":"#333"},"encoding":{"x":{"datum":496.1,"type":"quantitative","axis":null},"y":{"datum":39.01,"type":"quantitative","axis":null},"text":{"value":"GAW14 simulated New York SNP data"}}}
 ]}
],
"config":{
 "view":{"stroke":"#222","strokeWidth":1}
}
}
